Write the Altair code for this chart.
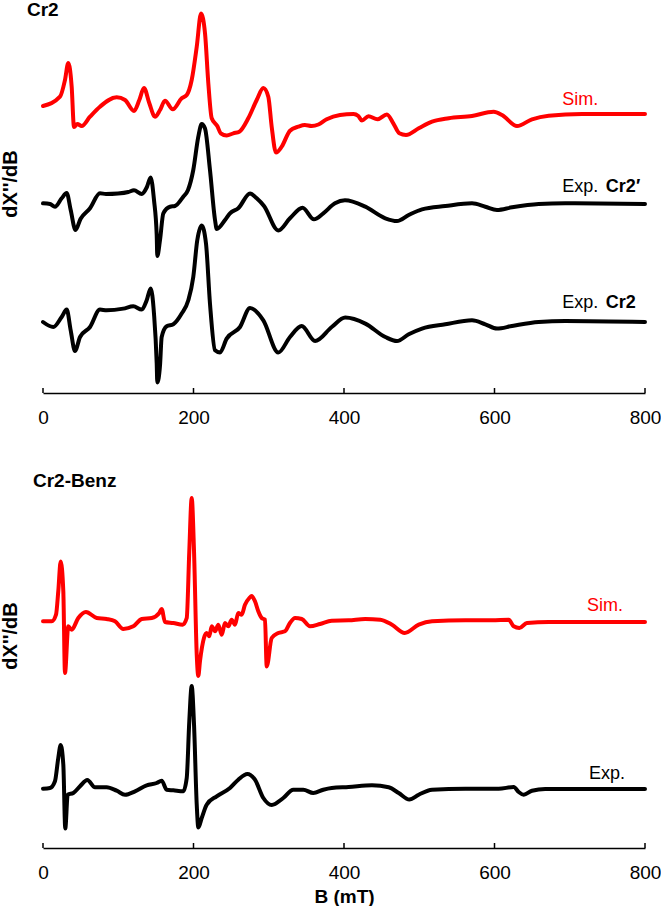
import altair as alt
import pandas as pd

FONT = "Liberation Sans"
RED = "#ff0000"
BLACK = "#000000"
TICKS = [0, 200, 400, 600, 800]

# ---------------- Panel 1: Cr2 (B in mT, signal in arbitrary units, relative to each trace's baseline)
cr2_sim_B = [0, 22.6, 29.2, 33.6, 38.1, 41.2, 45.6, 51.4, 62.5, 75.7, 97.9, 109, 120.9, 128, 134.2, 141.3,
             148.8, 155.5, 162.1, 172.4, 184.3, 191, 197.6, 204.3, 210, 215.3, 219.7, 224.2, 231.6, 236.2,
             244.1, 252.9, 260.9, 272.8, 284, 292.8, 299.4, 303.9, 309.6, 317.2, 328.2, 339.3, 348, 357, 366,
             377, 394.7, 412.6, 419, 423.8, 432.5, 444.5, 457, 465.5, 473.5, 482.4, 499.3, 517, 539.2, 570.1,
             598.9, 610, 629.9, 649.8, 672, 716.3, 800]
cr2_sim_S = [8, 17.3, 34, 51, 27.3, -13, -10, -12, -2.7, 7.3, 16.7, 14, 3, 14, 26, 10.7,
             -2.7, 4, 13.3, 4.7, 15.7, 19, 34, 67.3, 100.5, 80.7, 30.7, -4.3, -12, -19.3,
             -21.5, -19.3, -17.7, -4.3, 14, 26, 17.3, -12.7, -38.5, -32.7, -16.7, -12.7, -11, -12, -10.5,
             -5.3, -1, 0, -2, -6.5, -2.3, -5.3, -0.5, -9.3, -19.3, -21, -14.3, -7.7, -4.3, -2,
             2.3, -1, -12, -5.3, -1.7, 0, 0]

cr2p_exp_B = [0, 9.3, 15.9, 24.8, 31.5, 36.8, 43.2, 49.8, 62.5, 75.7, 83.7, 99.7, 113.4, 120.9, 131.2, 137.8,
              143.1, 147.5, 151.1, 151.9, 155.5, 159.9, 168.8, 175.4, 186.4, 192.7, 199.7, 206.4, 210.9,
              215.3, 221.9, 228.6, 230.9, 241.9, 248.5, 259.5, 275.1, 284, 293.7, 312.7, 328.2, 344.9,
              360.1, 372.5, 388, 401.3, 428.3, 454.9, 470.4, 486, 503.7, 534.6, 570.1, 587.8, 603.3, 623.3,
              658.7, 694.1, 800]
cr2p_exp_S = [0.7, 0, -2.7, 5.7, 11, -6, -26, -15, -4.3, 10.7, 10, 10.5, 12, 13.7, 10, 16.5,
              26.5, 4, -31, -52, -36, -9.3, -2.7, -2, 7.3, 14, 34, 67.3, 80,
              75.5, 34, -16, -25, -16, -9.3, -4.3, 10.5, 5.7, -2, -26.5, -14.3, -3.8,
              -15.3, -9.3, 0.7, 3.7, -2.7, -14.3, -17, -11, -5.3, -2, 0.7, -2.7, -6, -3.3,
              0, 0.7, 0]

cr2_exp_B = [0, 13.7, 24.8, 31.5, 36.8, 42.5, 49.2, 62.5, 75.7, 84.6, 106.7, 120, 131.2, 137.8, 143.1,
             147.5, 151.1, 151.9, 155.5, 157.7, 164.4, 173.2, 184.3, 193.1, 199.7, 205, 210.9, 216.6, 221.9,
             228.6, 235.2, 244.1, 261.8, 275.1, 292.8, 312.7, 328.2, 343.8, 361.5, 383.7, 401.7, 428.3,
             454.9, 470.4, 486, 503.7, 534.6, 570.1, 587.8, 603.3, 623.3, 658.7, 694.1, 800]
cr2_exp_S = [0, -5, 5, 12.4, -8.3, -29, -15, -5, 12.4, 11.7, 13.4, 15.7, 12.4, 21.7, 33.5,
             8.4, -41.3, -60.5, -43.3, -15, -4.3, -2.3, 8.4, 21.7, 45, 81.7, 96.5, 78.4, 18.4,
             -28.3, -30.5, -16.6, -5, 14, 1.7, -30.5, -15, -4, -19, -5, 4.4, -1.6,
             -15, -19, -12.3, -6.6, -2.3, 1.7, -2.3, -6.6, -4, 0, 1, 0]

# ---------------- Panel 2: Cr2-Benz
benz_sim_B = [0, 11.6, 17.3, 20.3, 23.5, 27, 29.2, 33.6, 38.1, 46.9, 57.1, 71.4, 84.6, 95.7, 106.7, 120,
              131.2, 144.5, 154.5, 157.7, 162.1, 173.2, 185.6, 191, 194.4, 197.6, 200.7, 204.3, 206.4,
              208.6, 213.9, 217.5, 221, 224.2, 228.6, 233, 237.5, 241.9, 246.3, 250.7, 255.1, 259.5, 264,
              268.4, 274.2, 277.3, 281.7, 286.1, 290.6, 295, 297.3, 303.9, 312.7, 321.6, 328.2, 334.9,
              343.8, 354.8, 368.1, 383.7, 406.2, 428.3, 448.2, 463.8, 480.7, 499.3, 517, 561.2, 596.7,
              618.9, 625.5, 633, 643.2, 672, 800]
benz_sim_S = [0.7, 0.7, 7.3, 30.7, 60.5, 30.7, -51, -4.3, -7.7, 4, 10, 4, 3, 0.7, -7, -4.3,
              3, 4, 9, 13, 0, -1, -2.7, 4, 70.7, 124, 70.7, -32.7, -54,
              -39.3, -16, -11, -14.3, -4.3, -9.3, -2.7, -12.7, -1, -4.3, 2.3, -2.7, 9, 7.3,
              17.3, 24, 26, 20.7, 10.7, 4, 2.3, -44.5, -16, -11, -9.3, -1, 4,
              3, -4.3, -2, 1.3, 1.7, 3, 2.3, -2.7, -11, -2.7, 0.7, 1.7, 1.7,
              2.3, -4.3, -6, -1, 0, 0]

benz_exp_B = [0, 9.3, 15.9, 20.3, 23.5, 27, 29.6, 32.8, 40.3, 49.2, 58.9, 69.1, 84.6, 97.9, 109, 122.3,
              137.8, 151.1, 157.7, 164.4, 173.2, 186.4, 191, 194.4, 197.6, 200.7, 204.3, 206.4, 210.9,
              217.5, 230.8, 248.5, 259.5, 271.5, 281.7, 292.8, 303.9, 319.3, 332.6, 345.9, 359.2, 372.5,
              383.7, 406.2, 437.2, 459.4, 472.7, 486.8, 499.3, 517, 561.2, 605.6, 625.5, 632.2, 638.8,
              649.8, 667.5, 800]
benz_exp_S = [0.3, 1, 7.7, 31, 44, 24.3, -39.5, -5.7, -4, 2.7, 9, 1.7, 1.7, -1.7, -5.7, -2.3,
              3.7, 6, 8.3, -0.7, -1.3, -2.3, 11, 67.7, 103, 64.3, -15.7, -38.5, -29,
              -15.7, -7.3, 1, 9.3, 15, 9.3, -9, -16, -9, -0.7, -0.7, -4, -0.7,
              1, 2, 3.7, 1.7, -4, -10.5, -5.7, -0.7, 0.3, 0.3, 2, -3, -5.8,
              -1.7, 0, 0]

# vertical stacking of traces (arbitrary units above the axis)
top_offsets = {"sim": 279, "exp1": 189, "exp2": 71}
bot_offsets = {"sim": 226, "exp1": 59}

TOP_H = 393
BOT_H = 380
W = 602


def frame(B, S, name, offsets):
    return pd.DataFrame({"B": B, "y": [s + offsets[name] for s in S], "trace": name})


top_df = pd.concat([
    frame(cr2_sim_B, cr2_sim_S, "sim", top_offsets),
    frame(cr2p_exp_B, cr2p_exp_S, "exp1", top_offsets),
    frame(cr2_exp_B, cr2_exp_S, "exp2", top_offsets),
])
bot_df = pd.concat([
    frame(benz_sim_B, benz_sim_S, "sim", bot_offsets),
    frame(benz_exp_B, benz_exp_S, "exp1", bot_offsets),
])

# labels: (text, B, y)
top_red_labels = pd.DataFrame({"t": ["Sim."], "B": [690], "y": [293]})
top_black_labels = pd.DataFrame({"t": ["Exp.", "Exp."], "B": [690, 690], "y": [206, 90]})
top_bold_labels = pd.DataFrame({"t": ["Cr2\u2032", "Cr2"], "B": [748, 748], "y": [206, 90]})
top_title = pd.DataFrame({"t": ["Cr2"], "B": [-21.3], "y": [383]})

bot_red_labels = pd.DataFrame({"t": ["Sim."], "B": [723], "y": [242]})
bot_black_labels = pd.DataFrame({"t": ["Exp."], "B": [725.6], "y": [74]})
bot_title = pd.DataFrame({"t": ["Cr2-Benz"], "B": [-13.3], "y": [367.5]})

tick_df = pd.DataFrame({"B": TICKS})


def panel(df, H, red_lab, black_lab, bold_lab, title_df, ytitle_y, xtitle):
    xaxis_kw = dict(values=TICKS, ticks=False, grid=False, domain=True, domainColor=BLACK, domainWidth=1.5,
                    labelFont=FONT, labelFontSize=19, labelColor=BLACK, labelPadding=15, labelFlush=False,
                    titleFont=FONT, titleFontSize=19, titleFontWeight="bold", titleColor=BLACK, titlePadding=5)
    if xtitle:
        xaxis = alt.Axis(title=xtitle, **xaxis_kw)
    else:
        xaxis = alt.Axis(title=None, **xaxis_kw)
    x = alt.X("B:Q", scale=alt.Scale(domain=[0, 800], nice=False, zero=False), axis=xaxis)
    y = alt.Y("y:Q", scale=alt.Scale(domain=[0, H], nice=False, zero=False),
              axis=alt.Axis(title="dX''/dB", labels=False, ticks=False, domain=False, grid=False,
                            titleFont=FONT, titleFontSize=20, titleFontWeight="bold", titleColor=BLACK,
                            titleX=-33, titleY=ytitle_y, titleAlign="center", titleBaseline="middle"))
    lines = alt.Chart(df).mark_line(strokeWidth=4, interpolate="monotone", strokeCap="round",
                                    strokeJoin="round").encode(
        x=x, y=y,
        color=alt.Color("trace:N", scale=alt.Scale(domain=["sim", "exp1", "exp2"], range=[RED, BLACK, BLACK]),
                        legend=None),
        detail="trace:N",
    )
    ticks = alt.Chart(tick_df).mark_rule(color=BLACK, strokeWidth=1.5).encode(
        x=x, y=alt.value(H - 5), y2=alt.value(H))
    layers = [lines, ticks]
    layers.append(alt.Chart(red_lab).mark_text(align="left", baseline="middle", font=FONT, fontSize=18,
                                               color=RED).encode(x=x, y=y, text="t:N"))
    layers.append(alt.Chart(black_lab).mark_text(align="left", baseline="middle", font=FONT, fontSize=18,
                                                 color=BLACK).encode(x=x, y=y, text="t:N"))
    if bold_lab is not None:
        layers.append(alt.Chart(bold_lab).mark_text(align="left", baseline="middle", font=FONT, fontSize=18,
                                                    fontWeight="bold", color=BLACK).encode(x=x, y=y, text="t:N"))
    layers.append(alt.Chart(title_df).mark_text(align="left", baseline="middle", font=FONT, fontSize=19,
                                                fontWeight="bold", color=BLACK).encode(x=x, y=y, text="t:N"))
    return alt.layer(*layers).properties(width=W, height=H)


top = panel(top_df, TOP_H, top_red_labels, top_black_labels, top_bold_labels, top_title, 183.5, None)
bot = panel(bot_df, BOT_H, bot_red_labels, bot_black_labels, None, bot_title, 167.5, "B (mT)")

chart = alt.vconcat(top, bot, spacing=41).properties(
    padding={"left": 0, "top": 0, "right": 0, "bottom": 0},
    background="white",
).configure_view(stroke="transparent", strokeWidth=0)

chart.save("out.html", embed_options={"renderer": "svg", "actions": False})
